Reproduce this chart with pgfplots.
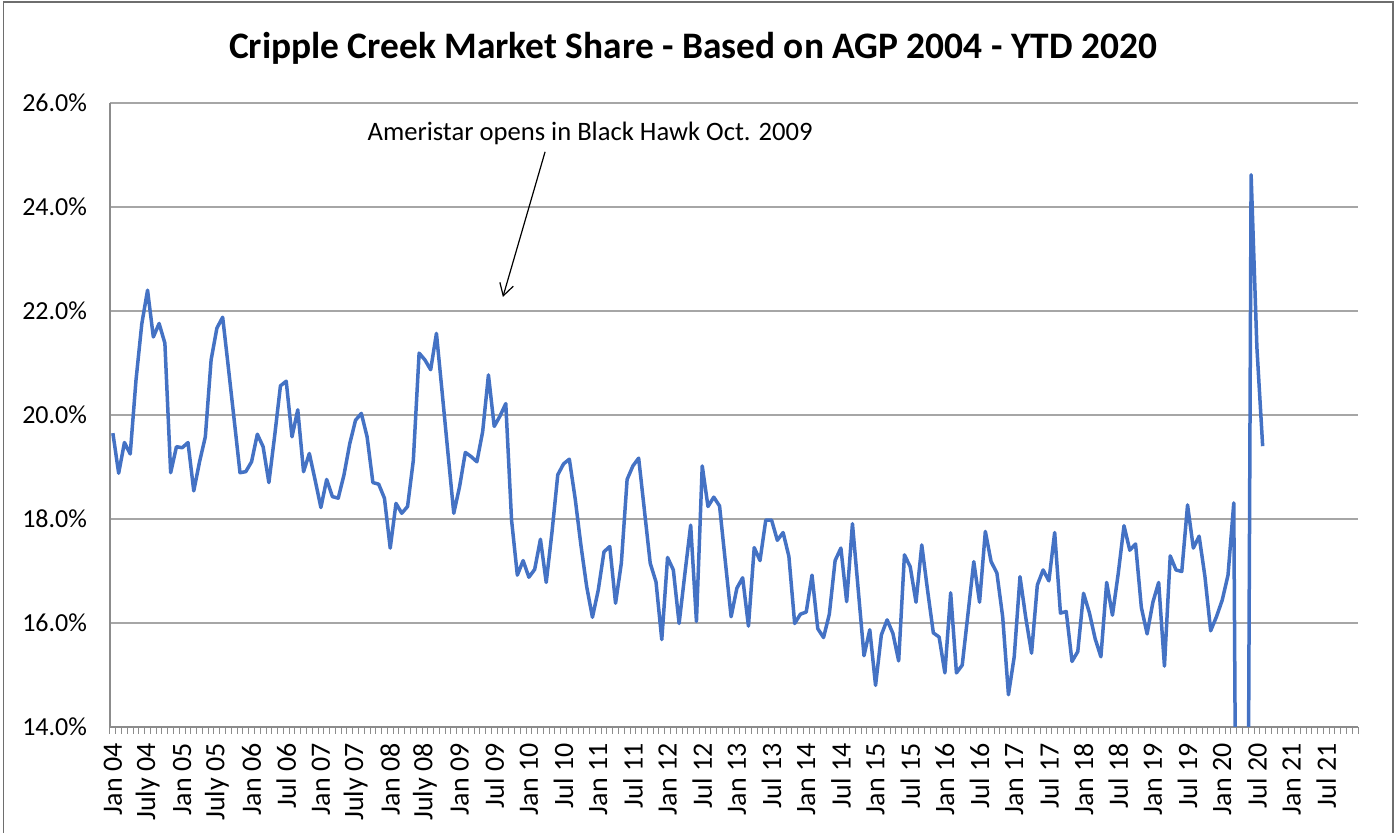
\documentclass[border=0pt]{standalone}
\usepackage{pgfplots}
\pgfplotsset{compat=1.18}
\usepackage{pgfplotstable}
\usetikzlibrary{arrows.meta}
\usepackage{fontspec}
\setmainfont{Carlito}
\definecolor{xlblue}{HTML}{4472C4}
\definecolor{gridgray}{HTML}{A6A6A6}
\definecolor{axgray}{HTML}{8C8C8C}
\definecolor{bordergray}{HTML}{6E6E6E}
\pgfplotstableread{
i v
0 19.65
1 18.88
2 19.47
3 19.25
4 20.67
5 21.75
6 22.40
7 21.50
8 21.76
9 21.38
10 18.89
11 19.39
12 19.37
13 19.47
14 18.54
15 19.10
16 19.58
17 21.06
18 21.67
19 21.88
20 20.90
21 19.90
22 18.89
23 18.91
24 19.10
25 19.63
26 19.39
27 18.70
28 19.60
29 20.56
30 20.65
31 19.58
32 20.10
33 18.91
34 19.26
35 18.75
36 18.22
37 18.76
38 18.43
39 18.40
40 18.85
41 19.45
42 19.90
43 20.03
44 19.58
45 18.70
46 18.67
47 18.40
48 17.44
49 18.30
50 18.11
51 18.24
52 19.13
53 21.19
54 21.06
55 20.87
56 21.57
57 20.42
58 19.26
59 18.11
60 18.62
61 19.28
62 19.20
63 19.10
64 19.68
65 20.77
66 19.78
67 19.98
68 20.22
69 17.98
70 16.92
71 17.20
72 16.88
73 17.03
74 17.61
75 16.78
76 17.75
77 18.85
78 19.06
79 19.15
80 18.40
81 17.50
82 16.70
83 16.11
84 16.63
85 17.37
86 17.47
87 16.38
88 17.15
89 18.76
90 19.02
91 19.17
92 18.16
93 17.15
94 16.79
95 15.68
96 17.26
97 17.02
98 15.99
99 16.95
100 17.88
101 16.03
102 19.02
103 18.24
104 18.42
105 18.25
106 17.18
107 16.12
108 16.67
109 16.87
110 15.94
111 17.45
112 17.20
113 17.98
114 17.98
115 17.59
116 17.74
117 17.28
118 15.99
119 16.17
120 16.21
121 16.92
122 15.89
123 15.72
124 16.17
125 17.20
126 17.44
127 16.41
128 17.91
129 16.64
130 15.37
131 15.87
132 14.80
133 15.77
134 16.06
135 15.80
136 15.27
137 17.31
138 17.08
139 16.40
140 17.50
141 16.63
142 15.81
143 15.73
144 15.04
145 16.58
146 15.04
147 15.19
148 16.18
149 17.18
150 16.40
151 17.76
152 17.18
153 16.96
154 16.12
155 14.62
156 15.35
157 16.89
158 16.10
159 15.42
160 16.73
161 17.02
162 16.81
163 17.74
164 16.19
165 16.22
166 15.26
167 15.45
168 16.57
169 16.20
170 15.70
171 15.35
172 16.78
173 16.15
174 16.95
175 17.87
176 17.40
177 17.52
178 16.30
179 15.79
180 16.40
181 16.78
182 15.17
183 17.29
184 17.02
185 16.99
186 18.27
187 17.44
188 17.67
189 16.90
190 15.85
191 16.12
192 16.44
193 16.92
194 18.31
195 0
196 0
197 24.62
198 21.30
199 19.40
}\share
\begin{document}
\begin{tikzpicture}
\path[use as bounding box] (-55pt,-53pt) rectangle (644pt,363.5pt);
\draw[bordergray, line width=0.7pt] (-53.3pt,-60pt) -- (-53.3pt,362.5pt) -- (641.5pt,362.5pt) -- (641.5pt,-60pt);
\begin{axis}[
  at={(0pt,0pt)}, anchor=south west,
  scale only axis,
  width=624pt, height=312pt,
  xmin=-0.5, xmax=215.5,
  ymin=14, ymax=26,
  axis x line*=bottom, axis y line*=left,
  axis line style={axgray, line width=0.7pt},
  ytick={14,16,18,20,22,24,26},
  yticklabels={14.0\%,16.0\%,18.0\%,20.0\%,22.0\%,24.0\%,26.0\%},
  ymajorgrids,
  major grid style={gridgray, line width=0.7pt},
  xtick={0,6,...,210},
  xticklabels={Jan 04,July 04,Jan 05,July 05,Jan 06,Jul 06,Jan 07,July 07,Jan 08,July 08,Jan 09,Jul 09,Jan 10,Jul 10,Jan 11,Jul 11,Jan 12,Jul 12,Jan 13,Jul 13,Jan 14,Jul 14,Jan 15,Jul 15,Jan 16,Jul 16,Jan 17,Jul 17,Jan 18,Jul 18,Jan 19,Jul 19,Jan 20,Jul 20,Jan 21,Jul 21},
  minor xtick={-0.5,0.5,...,215.5},
  major tick length=0pt,
  minor tick length=3.5pt,
  tick align=outside,
  minor tick style={axgray, line width=0.5pt},
  ytick style={draw=none},
  xticklabel style={rotate=90, anchor=east, font=\fontsize{14}{16}\selectfont, inner sep=0pt},
  xticklabel shift=8pt,
  yticklabel style={anchor=east, font=\fontsize{13}{15}\selectfont, inner sep=0pt},
  yticklabel shift=11.3pt,
]
\addplot[xlblue, line width=1.75pt, line join=round] table[x=i, y=v] {\share};
\node[font=\fontsize{13.3}{15}\selectfont, anchor=center] at (axis cs:82.6,25.42) {Ameristar opens in Black Hawk Oct. 2009};
\draw[black, line width=0.6pt, -{Straight Barb[length=6pt, width=7pt]}] (axis cs:74.8,25.06) -- (axis cs:67.5,22.27);
\end{axis}
\node[font=\fontsize{18.7}{22}\selectfont\bfseries] at (291.5pt,339.5pt) {Cripple Creek Market Share - Based on AGP 2004 - YTD 2020};
\end{tikzpicture}
\end{document}
